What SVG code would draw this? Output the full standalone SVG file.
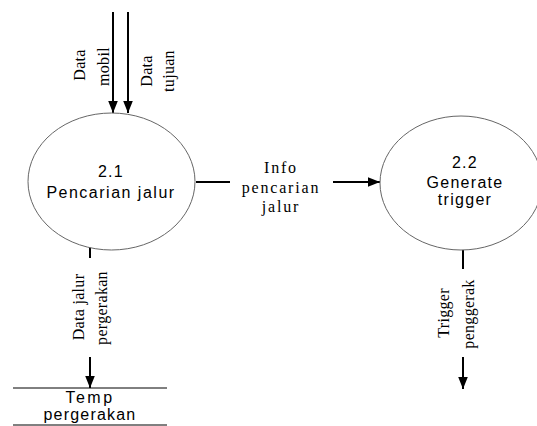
<svg xmlns="http://www.w3.org/2000/svg" width="537" height="426" viewBox="0 0 537 426">
  <style>
    .proc { fill: #ffffff; stroke: #666666; stroke-width: 1; }
    .ptext { font-family: "Liberation Sans", Arial, sans-serif; font-size: 16px; letter-spacing: 1.3px; fill: #000; text-anchor: middle; }
    .flow { stroke: #000; stroke-width: 2; fill: none; }
    .lbl { font-family: "Liberation Serif", "Times New Roman", serif; font-size: 16px; letter-spacing: 0.3px; fill: #000; text-anchor: middle; }
    .hlbl { font-family: "Liberation Serif", "Times New Roman", serif; font-size: 16px; letter-spacing: 1.8px; fill: #000; text-anchor: middle; }
    .store { stroke: #000; stroke-width: 1; }
    .stext { font-family: "Liberation Sans", Arial, sans-serif; font-size: 16px; fill: #000; text-anchor: middle; }
  </style>
  <defs>
    <marker id="arrow" markerUnits="userSpaceOnUse" markerWidth="12" markerHeight="16" refX="15" refY="6" viewBox="0 0 15 12" orient="auto">
      <path d="M0,0 L15,6 L0,12 Z" fill="#000"/>
    </marker>
  </defs>

  <rect width="537" height="426" fill="#ffffff"/>

  <g id="connectors">
    <!-- incoming flows to 2.1 -->
    <line class="flow" x1="113" y1="12" x2="113" y2="113" marker-end="url(#arrow)"/>
    <line class="flow" x1="128" y1="12" x2="128" y2="113" marker-end="url(#arrow)"/>
    <text class="lbl" transform="translate(85,65) rotate(-90)">Data</text>
    <text class="lbl" transform="translate(109,66.5) rotate(-90)">mobil</text>
    <text class="lbl" transform="translate(152,71) rotate(-90)">Data</text>
    <text class="lbl" transform="translate(174,71) rotate(-90)">tujuan</text>

    <!-- 2.1 to 2.2 -->
    <line class="flow" x1="196" y1="182" x2="230" y2="182"/>
    <line class="flow" x1="333" y1="182" x2="380" y2="182" marker-end="url(#arrow)"/>
    <text class="hlbl" x="281" y="173">Info</text>
    <text class="hlbl" x="281" y="193">pencarian</text>
    <text class="hlbl" x="281" y="212">jalur</text>

    <!-- 2.1 to store -->
    <line class="flow" x1="90" y1="243" x2="90" y2="258"/>
    <line class="flow" x1="90" y1="357" x2="90" y2="388" marker-end="url(#arrow)"/>
    <text class="lbl" transform="translate(84,307) rotate(-90)">Data jalur</text>
    <text class="lbl" transform="translate(107,308) rotate(-90)">pergerakan</text>

    <!-- 2.2 outgoing -->
    <line class="flow" x1="463" y1="250" x2="463" y2="269"/>
    <line class="flow" x1="463" y1="357" x2="463" y2="389" marker-end="url(#arrow)"/>
    <text class="lbl" transform="translate(449,313) rotate(-90)">Trigger</text>
    <text class="lbl" transform="translate(474,314) rotate(-90)">penggerak</text>
  </g>

  <g id="p2-1">
    <ellipse class="proc" cx="111.5" cy="181.5" rx="83.5" ry="68.5"/>
    <text class="ptext" x="111" y="177">2.1</text>
    <text class="ptext" style="letter-spacing:1.5px" x="111" y="198">Pencarian jalur</text>
  </g>

  <g id="p2-2">
    <ellipse class="proc" cx="461" cy="183" rx="81" ry="67"/>
    <text class="ptext" x="465" y="168">2.2</text>
    <text class="ptext" x="465" y="188">Generate</text>
    <text class="ptext" x="465" y="205">trigger</text>
  </g>

  <g id="store-temp">
    <line class="store" x1="13" y1="388" x2="167" y2="388"/>
    <line class="store" x1="13" y1="425" x2="167" y2="425"/>
    <text class="stext" x="90" y="403" style="letter-spacing:2.5px">Temp</text>
    <text class="stext" x="90" y="420" style="letter-spacing:1.2px">pergerakan</text>
  </g>
</svg>
